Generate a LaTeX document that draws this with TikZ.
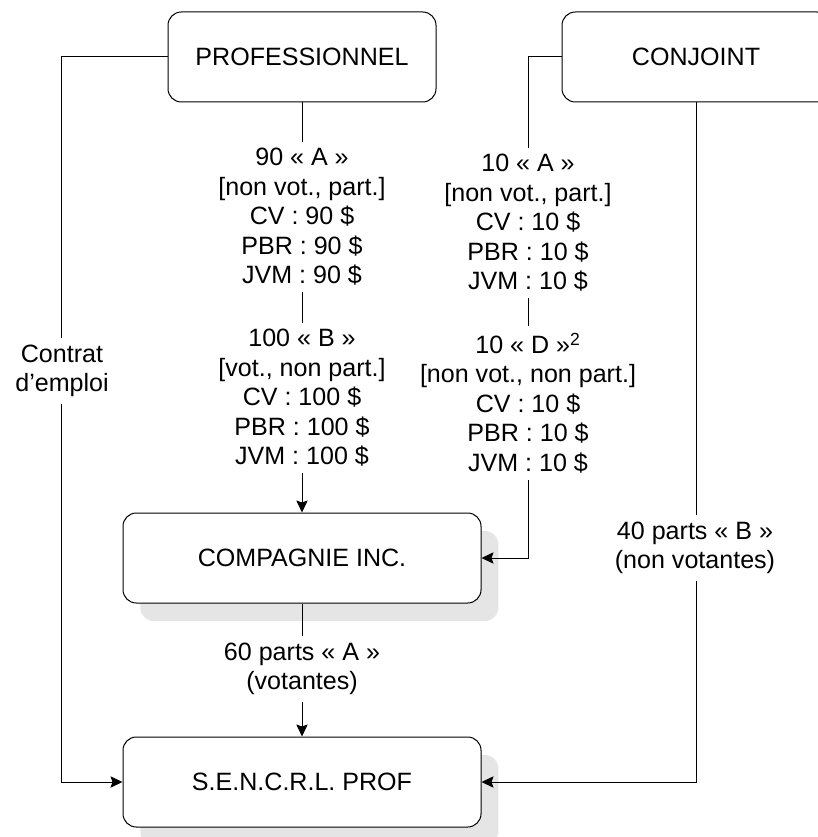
\documentclass[tikz,border=0pt]{standalone}
\usepackage{fontspec}
\setmainfont{Liberation Sans}
\usepackage{tikz}
\usetikzlibrary{positioning,shadows,arrows.meta}
\tikzset{
  box/.style={draw, rounded corners=10pt, fill=white, minimum width=201pt,
    minimum height=67.5pt, font=\fontsize{18.8}{22.1}\selectfont},
  wide/.style={minimum width=268.5pt},
  shadowed/.style={drop shadow={shadow xshift=13pt, shadow yshift=-13.5pt,
    fill=black!10, opacity=1}},
  lbl/.style={fill=white, align=center, inner sep=5pt,
    font=\fontsize{18.8}{22.1}\selectfont},
  >={Stealth[length=9pt,width=8.5pt,inset=1.5pt]},
}

\begin{document}
\begin{tikzpicture}[line width=0.75pt]
        \useasboundingbox (0,0) rectangle (612.75pt,-627.75pt);
        \node[box] (prof) at (226.5pt,-42.75pt) {PROFESSIONNEL};
        \node[box, right=93.75pt of prof] (conj) {CONJOINT};
        \node[box, wide, shadowed, below=307.5pt of prof] (comp) {COMPAGNIE INC.};
        \node[box, wide, shadowed, below=99.75pt of comp] (senc) {S.E.N.C.R.L. PROF};
        \coordinate[left=79.5pt of prof.west] (lk);
        \coordinate (ck) at (396pt,-42.75pt);
        \draw[->] (prof.west) -- (lk) |- (senc.west);
        \draw[->] (prof.south) -- (comp.north);
        \draw[->] (conj.west) -- (ck) |- (comp.east);
        \draw[->] (conj.south) |- (senc.east);
        \draw[->] (comp.south) -- (senc.north);
        \node[lbl] (pa) at (226.5pt,-162.75pt) {90 « A »\\ {[non vot., part.]}\\ CV : 90 \$\\ PBR : 90 \$\\ JVM : 90 \$};
        \node[lbl] (pb) at (226.5pt,-298.5pt) {100 « B »\\ {[vot., non part.]}\\ CV : 100 \$\\ PBR : 100 \$\\ JVM : 100 \$};
        \node[lbl] (ca) at (396pt,-167.25pt) {10 « A »\\ {[non vot., part.]}\\ CV : 10 \$\\ PBR : 10 \$\\ JVM : 10 \$};
        \node[lbl] (cd) at (396pt,-302.25pt) {10 « D »\textsuperscript{2}\\ {[non vot., non part.]}\\ CV : 10 \$\\ PBR : 10 \$\\ JVM : 10 \$};
        \node[lbl] (cb) at (521.25pt,-411pt) {40 parts « B »\\ (non votantes)};
        \node[lbl] (va) at (226.5pt,-501.75pt) {60 parts « A »\\ (votantes)};
        \node[lbl] (ct) at (46.5pt,-278.25pt) {Contrat\\ d’emploi};
\end{tikzpicture}
\end{document}
